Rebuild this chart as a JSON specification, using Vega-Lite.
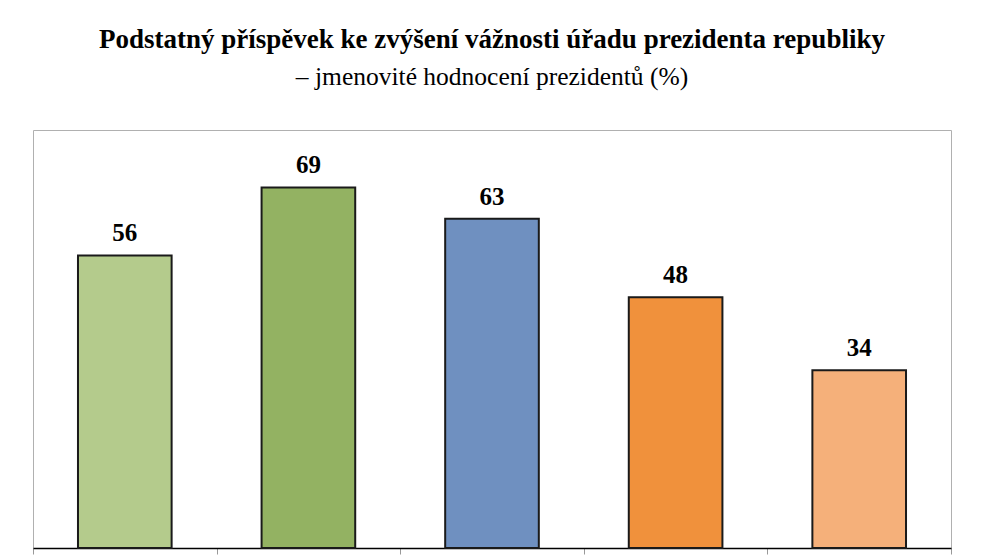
{
  "$schema": "https://vega.github.io/schema/vega-lite/v6.json",
  "autosize": {"type": "none"},
  "width": 918,
  "height": 418,
  "padding": {"left": 33, "top": 130, "right": 40, "bottom": 10},
  "background": "white",
  "title": {
    "text": "Podstatný příspěvek ke zvýšení vážnosti úřadu prezidenta republiky",
    "subtitle": "– jmenovité hodnocení prezidentů (%)",
    "anchor": "middle",
    "font": "Liberation Serif",
    "fontSize": 27,
    "fontWeight": "bold",
    "color": "black",
    "subtitleFont": "Liberation Serif",
    "subtitleFontSize": 25.5,
    "subtitleColor": "black",
    "subtitlePadding": 11,
    "offset": 39
  },
  "data": {
    "values": [
      {"prezident": "T. G. Masaryk", "podil": 56},
      {"prezident": "E. Beneš", "podil": 69},
      {"prezident": "V. Havel", "podil": 63},
      {"prezident": "V. Klaus", "podil": 48},
      {"prezident": "M. Zeman", "podil": 34}
    ]
  },
  "config": {
    "view": {"stroke": "#b0b0b0", "strokeWidth": 1}
  },
  "encoding": {
    "x": {
      "field": "prezident",
      "type": "nominal",
      "sort": null,
      "scale": {"paddingInner": 0, "paddingOuter": 0},
      "axis": {
        "title": null,
        "labels": false,
        "domainColor": "black",
        "domainWidth": 1.5,
        "tickColor": "#999999",
        "tickBand": "extent",
        "tickSize": 6
      }
    },
    "y": {
      "field": "podil",
      "type": "quantitative",
      "scale": {"domain": [0, 80]},
      "axis": null
    }
  },
  "layer": [
    {
      "mark": {"type": "bar", "stroke": "#1a1a1a", "strokeWidth": 2, "width": {"band": 0.51}},
      "encoding": {
        "color": {
          "field": "prezident",
          "type": "nominal",
          "sort": null,
          "scale": {"range": ["#b4cb8c", "#93b262", "#6f90c0", "#f0913c", "#f5b07a"]},
          "legend": null
        }
      }
    },
    {
      "mark": {
        "type": "text",
        "baseline": "bottom",
        "dy": -9,
        "font": "Liberation Serif",
        "fontSize": 25,
        "fontWeight": "bold",
        "color": "black"
      },
      "encoding": {"text": {"field": "podil", "type": "quantitative"}}
    }
  ]
}
